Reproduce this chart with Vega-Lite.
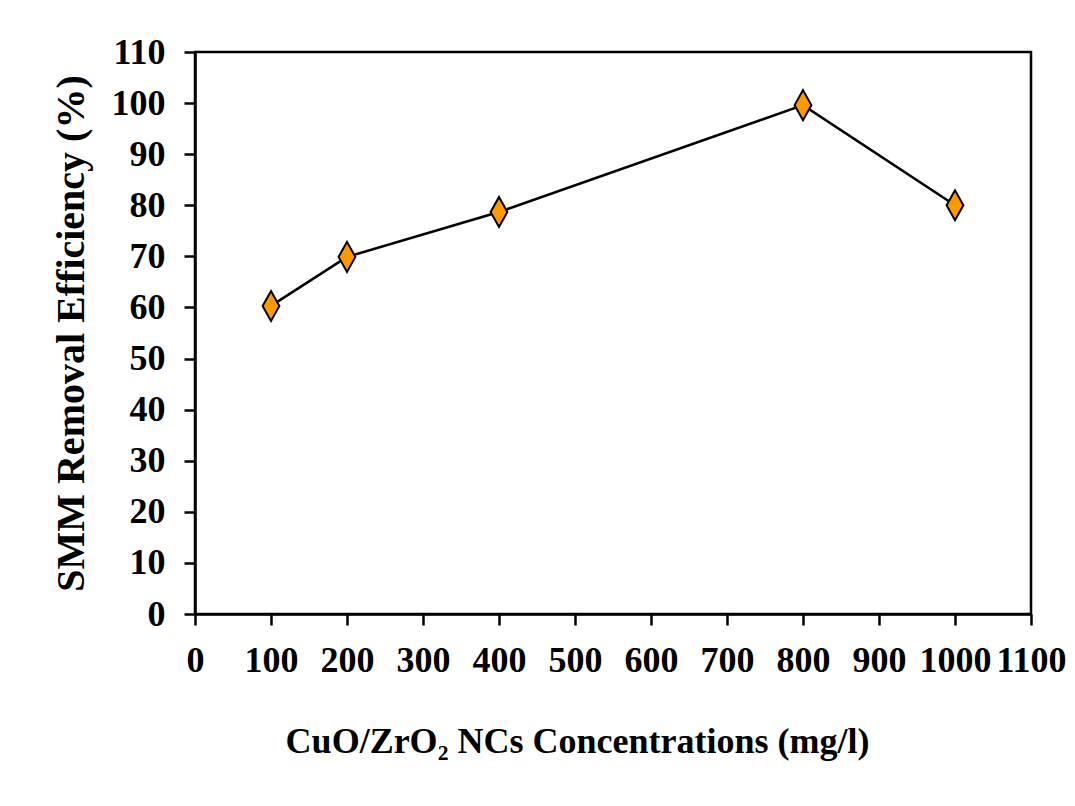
{
  "$schema": "https://vega.github.io/schema/vega-lite/v6.json",
  "width": 836,
  "height": 562,
  "autosize": {"type": "none"},
  "padding": {"left": 195, "top": 52, "right": 44, "bottom": 192},
  "background": "white",
  "config": {
    "view": {"stroke": "black", "strokeWidth": 2.5},
    "font": "Liberation Serif"
  },
  "data": {
    "values": [
      {"conc": 100, "eff": 60.3},
      {"conc": 200, "eff": 69.9},
      {"conc": 400, "eff": 78.7},
      {"conc": 800, "eff": 99.6},
      {"conc": 1000, "eff": 80.0}
    ]
  },
  "encoding": {
    "x": {
      "field": "conc",
      "type": "quantitative",
      "scale": {"domain": [0, 1100], "nice": false},
      "axis": {
        "title": "CuO/ZrO₂ NCs Concentrations (mg/l)",
        "values": [0, 100, 200, 300, 400, 500, 600, 700, 800, 900, 1000, 1100],
        "format": "d",
        "grid": false,
        "domainColor": "black",
        "domainWidth": 2.5,
        "tickColor": "black",
        "tickWidth": 2.5,
        "tickSize": 11,
        "labelFont": "Liberation Serif",
        "labelFontWeight": "bold",
        "labelFontSize": 36,
        "labelColor": "black",
        "labelPadding": 18,
        "labelFlush": false,
        "labelOverlap": false,
        "titleFont": "Liberation Serif",
        "titleFontWeight": "bold",
        "titleFontSize": 36,
        "titleColor": "black",
        "titlePadding": 46,
        "titleAnchor": "middle",
        "titleX": 382
      }
    },
    "y": {
      "field": "eff",
      "type": "quantitative",
      "scale": {"domain": [0, 110], "nice": false},
      "axis": {
        "title": "SMM Removal Efficiency (%)",
        "values": [0, 10, 20, 30, 40, 50, 60, 70, 80, 90, 100, 110],
        "format": "d",
        "grid": false,
        "domainColor": "black",
        "domainWidth": 2.5,
        "tickColor": "black",
        "tickWidth": 2.5,
        "tickSize": 11,
        "labelFont": "Liberation Serif",
        "labelFontWeight": "bold",
        "labelFontSize": 36,
        "labelColor": "black",
        "labelPadding": 19,
        "labelFlush": false,
        "labelOverlap": false,
        "titleFont": "Liberation Serif",
        "titleFontWeight": "bold",
        "titleFontSize": 40,
        "titleColor": "black",
        "titlePadding": 20
      }
    }
  },
  "layer": [
    {"mark": {"type": "line", "color": "black", "strokeWidth": 2.6}},
    {
      "mark": {
        "type": "point",
        "shape": "M0,-1L0.56,0L0,1L-0.56,0Z",
        "size": 900,
        "filled": true,
        "fill": "#FF9900",
        "stroke": "black",
        "strokeWidth": 2,
        "opacity": 1
      }
    }
  ]
}
